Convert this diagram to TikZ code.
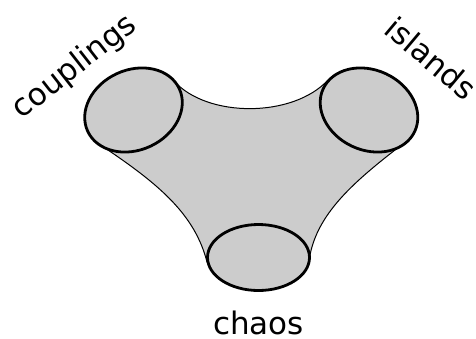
\documentclass[tikz,border=0pt]{standalone}
\usepackage{fontspec}
\setmainfont{DejaVu Sans}
\tikzset{
  regime/.style = {draw=black, fill=black!20, line width=2.8pt},% the three ends
  web/.style = {draw=black, fill=black!20, line width=1pt},% the joining sheet
  tag/.style = {font=\fontsize{31}{37}\selectfont, inner sep=0pt, anchor=base}
}
\begin{document}
\begin{tikzpicture}[x=1pt, y=-1pt]
  \useasboundingbox (0,0) rectangle (476,338);
  \coordinate (cpl) at (133.5,110);
  \coordinate (isl) at (369,110);
  \coordinate (chs) at (258.5,257.5);
  % the grey sheet between the ellipses
  \path[web] (174,81) .. controls (207,118) and (293,118) .. (328,80)
    -- (395,150) .. controls (350,185) and (318,215) .. (310,255)
    -- (207,262) .. controls (195,215) and (160,185) .. (105,148)
    -- cycle;
  \draw[regime, rotate around={25:(cpl)}] (cpl) ellipse [x radius=50.5, y radius=40];
  \draw[regime, rotate around={-25:(isl)}] (isl) ellipse [x radius=50.5, y radius=40];
  \draw[regime] (chs) ellipse [x radius=51, y radius=33];
  \node[tag, rotate=38] (couplings) at (80,74) {couplings};
  \node[tag, rotate=-40] (islands) at (424,67) {islands};
  \node[tag] (chaos) at (258.5,334) {chaos};
\end{tikzpicture}
\end{document}
